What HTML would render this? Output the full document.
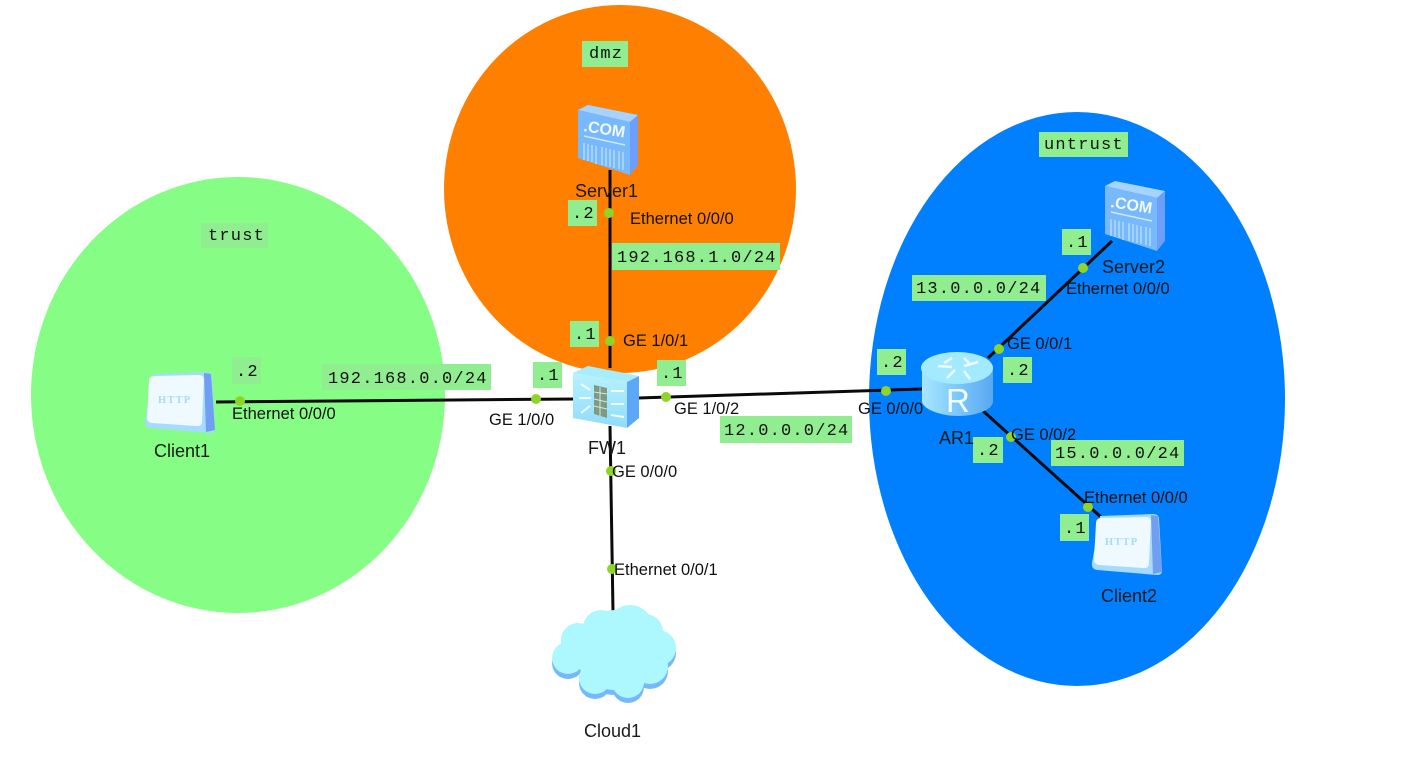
<!DOCTYPE html>
<html><head><meta charset="utf-8"><style>
html,body{margin:0;padding:0;background:#fff;width:1412px;height:759px;overflow:hidden}
svg{display:block}
.t{font:18px "Liberation Sans",sans-serif;fill:#1a1a1a}
.s{font:16.5px "Liberation Sans",sans-serif;fill:#111}
.m{font:17px "Liberation Mono",monospace;fill:#111;letter-spacing:1.2px}
.l{fill:#90ee90}
.c{fill:#8fd42a}
.w{stroke:#0a0a0a;stroke-width:3;fill:none}
</style></head><body>
<svg width="1412" height="759" viewBox="0 0 1412 759" xmlns="http://www.w3.org/2000/svg">
<defs>
<linearGradient id="r" x1="0" x2="1" y1="0" y2="0"><stop offset="0" stop-color="#a8e6ff"/><stop offset=".5" stop-color="#7cc8fb"/><stop offset="1" stop-color="#58a8f2"/></linearGradient>
<linearGradient id="fw" x1="0" x2="0" y1="0" y2="1"><stop offset="0" stop-color="#b8f2ff"/><stop offset="1" stop-color="#8fdcfb"/></linearGradient>
<g id="srv">
<path d="M0 5 L10 0 L60 10 L52 17Z" fill="#a6d4ff"/>
<path d="M52 17 L60 10 L60 60 L52 70Z" fill="#6d9ffa"/>
<path d="M0 5 L52 17 L52 70 L0 53Z" fill="#78b8fd"/>
<text x="5" y="26" transform="rotate(9 5 26)" style="font:bold 16px 'Liberation Sans',sans-serif;fill:#f0f9ff">.COM</text>
<path d="M6 31 L47 40" stroke="#cdeaff" stroke-width="1.5"/>
<path d="M6 38v17M10 39v17M14 40v17M18 41v18M24 42v18M28 43v18M32 44v18M36 45v18M41 46v18M45 47v18" stroke="#b9e0ff" stroke-width="1.3"/>
</g>
<g id="cli">
<path d="M7 1 L60 -1 Q66 -1 66 4 L69 56 Q69 60 64 60 L4 55 Q-2 54 -1 48 Z" fill="#a4dbff"/>
<path d="M58 0 L65 1 L69 57 L60 59 Z" fill="#6f9ef2"/>
<path d="M7 3 L53 2 Q58 2 58 7 L56 48 Q56 54 50 53 L6 50 Q1 49 1 45 L3 8 Q3 4 7 3Z" fill="#eefaff"/>
<text x="12" y="30" style="font:bold 10.5px 'Liberation Serif',serif;fill:#a6dcf7;letter-spacing:1.2px">HTTP</text>
</g>
</defs>
<ellipse cx="238" cy="395" rx="207" ry="218" fill="#86fd84"/>
<ellipse cx="620" cy="189" rx="176" ry="184" fill="#ff8000"/>
<ellipse cx="1077" cy="399" rx="208" ry="287" fill="#0080ff"/>

<!-- links -->
<path class="w" d="M216 402 L575 399"/>
<path class="w" d="M610 170 L610 368"/>
<path class="w" d="M638 398 L922 389"/>
<path class="w" d="M610 426 L613 612"/>
<path class="w" d="M988 358 L1112 241"/>
<path class="w" d="M982 410 L1102 518"/>

<!-- labels -->
<g>
<rect class="l" x="582" y="41" width="46" height="26"/><rect class="l" x="201" y="223" width="67" height="25"/>
<rect class="l" x="1039" y="132" width="89" height="25"/><rect class="l" x="232" y="357" width="29" height="27"/>
<rect class="l" x="322" y="364" width="169" height="26"/><rect class="l" x="533" y="362" width="29" height="26"/>
<rect class="l" x="657" y="360" width="29" height="26"/><rect class="l" x="570" y="321" width="29" height="26"/>
<rect class="l" x="568" y="200" width="29" height="26"/><rect class="l" x="612" y="243" width="168" height="27"/>
<rect class="l" x="877" y="349" width="29" height="26"/><rect class="l" x="1003" y="357" width="29" height="26"/>
<rect class="l" x="973" y="437" width="30" height="26"/><rect class="l" x="912" y="275" width="134" height="26"/>
<rect class="l" x="720" y="416" width="132" height="27"/><rect class="l" x="1051" y="440" width="133" height="26"/>
<rect class="l" x="1062" y="229" width="29" height="26"/><rect class="l" x="1060" y="514" width="29" height="27"/>
</g>
<g class="m">
<text x="589" y="58">dmz</text><text x="208" y="240">trust</text><text x="1044" y="149">untrust</text>
<text x="236" y="376">.2</text><text x="328" y="383">192.168.0.0/24</text><text x="537" y="380">.1</text>
<text x="661" y="378">.1</text><text x="574" y="339">.1</text><text x="572" y="218">.2</text>
<text x="617" y="262">192.168.1.0/24</text><text x="881" y="367">.2</text><text x="1007" y="375">.2</text>
<text x="977" y="455">.2</text><text x="916" y="293">13.0.0.0/24</text><text x="724" y="435">12.0.0.0/24</text>
<text x="1055" y="458">15.0.0.0/24</text><text x="1066" y="247">.1</text><text x="1064" y="533">.1</text>
</g>

<!-- devices -->
<use href="#srv" x="578" y="105"/>
<use href="#srv" x="1105" y="181"/>
<use href="#cli" transform="translate(146 373)"/>
<use href="#cli" transform="translate(1093 515)"/>

<!-- firewall -->
<g>
<path d="M573 373 L627 382 L627 428 L573 418Z" fill="url(#fw)"/>
<path d="M573 373 L588 366 L639 376 L627 382Z" fill="#a6edff"/>
<path d="M627 382 L639 376 L639 418 L627 428Z" fill="#5aa8f7"/>
<path d="M594 385 L607 388 L607 418 L594 414Z" fill="#7e9a82"/>
<path d="M594 392l13 2M594 399l13 3M594 406l13 3M600 387v29" stroke="#d0e8e0" stroke-width="1"/>
<path d="M581 384l9 6M579 398h12M581 413l9-7M611 391h13M611 404h13M611 415l13 2" stroke="#f2fbff" stroke-width="2"/>
</g>

<!-- router -->
<g>
<path d="M922 368 L922 402 C924 410 942 416 958 416 C976 416 992 410 993 402 L993 368Z" fill="url(#r)"/>
<ellipse cx="957" cy="368" rx="36" ry="16" fill="#a4eaff"/>
<path d="M938 366l14 1M952 358l-8 5M978 362l-14 4M964 358l5 5M955 370l-8 8M964 371l6 8" stroke="#eefcff" stroke-width="2.5" fill="none"/>
<text x="946" y="412" style="font:33px 'Liberation Sans',sans-serif;fill:#f2fbff">R</text>
</g>

<!-- cloud -->
<g fill="#76b9fb" transform="translate(0 5)">
<circle cx="568" cy="658" r="16"/><circle cx="578" cy="640" r="17"/><circle cx="601" cy="628" r="18"/><circle cx="630" cy="628" r="23"/>
<circle cx="645" cy="632" r="18"/><circle cx="658" cy="648" r="18"/><circle cx="650" cy="666" r="18"/><circle cx="595" cy="678" r="16"/><circle cx="628" cy="682" r="16"/><circle cx="615" cy="650" r="40"/>
</g>
<g fill="#adf7ff">
<circle cx="568" cy="658" r="16"/><circle cx="578" cy="640" r="17"/><circle cx="601" cy="628" r="18"/><circle cx="630" cy="628" r="23"/>
<circle cx="645" cy="632" r="18"/><circle cx="658" cy="648" r="18"/><circle cx="650" cy="666" r="18"/><circle cx="595" cy="678" r="16"/><circle cx="628" cy="682" r="16"/><circle cx="615" cy="650" r="40"/>
</g>

<!-- ports -->
<g class="c">
<circle cx="240" cy="401" r="5"/><circle cx="536" cy="399" r="5"/><circle cx="609" cy="213" r="5"/>
<circle cx="610" cy="341" r="5"/><circle cx="666" cy="397" r="5"/><circle cx="886" cy="391" r="5"/>
<circle cx="611" cy="471" r="5"/><circle cx="612" cy="569" r="5"/><circle cx="999" cy="349" r="5"/>
<circle cx="1083" cy="268" r="5"/><circle cx="1011" cy="437" r="5"/><circle cx="1088" cy="507" r="5"/>
</g>

<!-- text -->
<g class="t">
<text x="154" y="457">Client1</text><text x="575" y="197">Server1</text><text x="588" y="454">FW1</text>
<text x="939" y="444">AR1</text><text x="584" y="737">Cloud1</text><text x="1102" y="273">Server2</text><text x="1101" y="602">Client2</text>
</g>
<g class="s">
<text x="232" y="419">Ethernet 0/0/0</text><text x="630" y="224">Ethernet 0/0/0</text><text x="623" y="346">GE 1/0/1</text>
<text x="489" y="425">GE 1/0/0</text><text x="674" y="414">GE 1/0/2</text><text x="612" y="477">GE 0/0/0</text>
<text x="614" y="575">Ethernet 0/0/1</text><text x="858" y="414">GE 0/0/0</text><text x="1007" y="349">GE 0/0/1</text>
<text x="1011" y="440">GE 0/0/2</text><text x="1066" y="294">Ethernet 0/0/0</text><text x="1084" y="503">Ethernet 0/0/0</text>
</g>
</svg>
</body></html>
